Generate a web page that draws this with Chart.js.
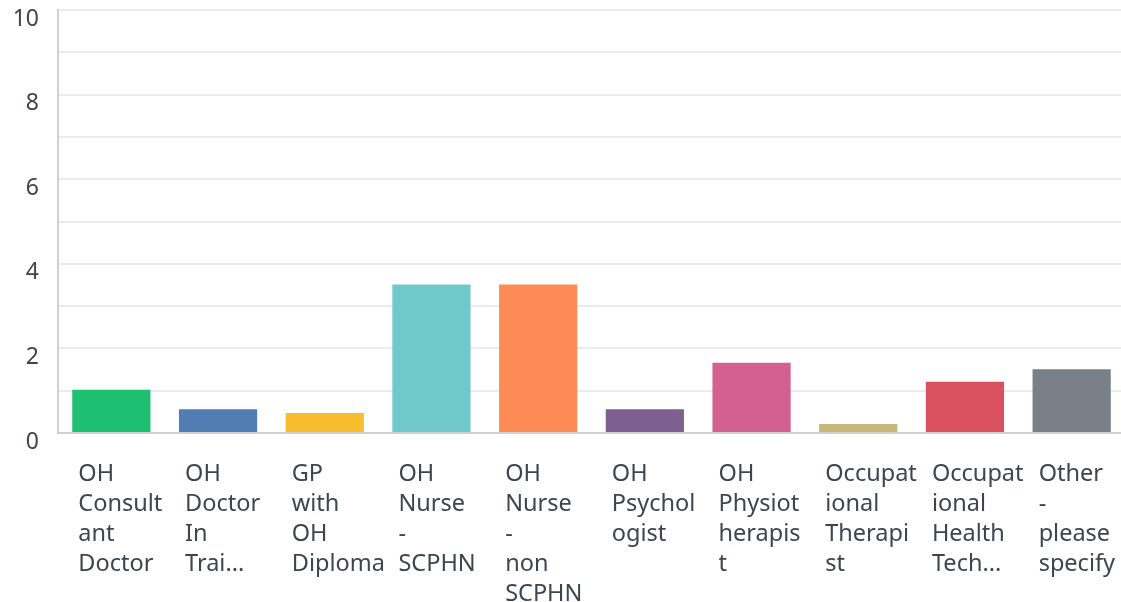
<!DOCTYPE html>
<html>
<head>
<meta charset="utf-8">
<script src="https://cdn.jsdelivr.net/npm/chart.js@4"></script>
<style>
  html, body { margin: 0; padding: 0; background: #fff; overflow: hidden; }
  #wrap { width: 1125px; height: 602px; position: relative; }
</style>
</head>
<body>
<div id="wrap"><canvas id="chart"></canvas></div>
<script>
const categories = [
  ['OH', 'Consult', 'ant', 'Doctor'],
  ['OH', 'Doctor', 'In', 'Trai...'],
  ['GP', 'with', 'OH', 'Diploma'],
  ['OH', 'Nurse', '-', 'SCPHN'],
  ['OH', 'Nurse', '-', 'non', 'SCPHN'],
  ['OH', 'Psychol', 'ogist'],
  ['OH', 'Physiot', 'herapis', 't'],
  ['Occupat', 'ional', 'Therapi', 'st'],
  ['Occupat', 'ional', 'Health', 'Tech...'],
  ['Other', '-', 'please', 'specify']
];
const values = [1.02, 0.56, 0.47, 3.51, 3.51, 0.56, 1.66, 0.21, 1.21, 1.51];
const barColors = ['#1fbf72', '#527db3', '#f6be2e', '#6fc8cb', '#fd8b55',
                   '#7f5f8f', '#d26090', '#c9b679', '#d9515f', '#7a8088'];
const yMax = 10;

const textColor = '#3d4650';

new Chart(document.getElementById('chart'), {
  type: 'bar',
  data: {
    labels: categories,
    datasets: [{
      data: values,
      backgroundColor: barColors,
      borderWidth: 0,
      barPercentage: 0.733,
      categoryPercentage: 1
    }]
  },
  options: {
    responsive: true,
    maintainAspectRatio: false,
    animation: false,
    layout: { padding: { top: 10, right: 0, left: 0, bottom: 0 } },
    plugins: { legend: { display: false }, tooltip: { enabled: false } },
    scales: {
      x: {
        offset: true,
        grid: { display: false, drawTicks: false },
        border: { display: true, color: '#d0d0d0', width: 2 },
        ticks: {
          color: textColor,
          font: { family: '"Noto Sans", sans-serif', size: 23.5, lineHeight: '30px' },
          align: 'start',
          labelOffset: -33,
          padding: 26,
          autoSkip: false,
          maxRotation: 0,
          minRotation: 0
        },
        afterFit: s => { s.height = 169; s.paddingLeft = 0; s.paddingRight = 0; }
      },
      y: {
        min: 0,
        max: yMax,
        grid: {
          color: c => c.tick && c.tick.value === 0 ? '#d0d0d0' : '#ebebeb',
          lineWidth: 2,
          drawTicks: false
        },
        border: { display: true, color: '#d0d0d0', width: 2 },
        ticks: {
          stepSize: 1,
          color: textColor,
          font: { family: '"Noto Sans", sans-serif', size: 23 },
          padding: 19,
          labelOffset: 9,
          callback: v => (v % 2 === 0 ? String(v) : '')
        },
        afterFit: s => { s.width = 58; s.paddingTop = 0; s.paddingBottom = 0; }
      }
    }
  }
});
</script>
</body>
</html>
